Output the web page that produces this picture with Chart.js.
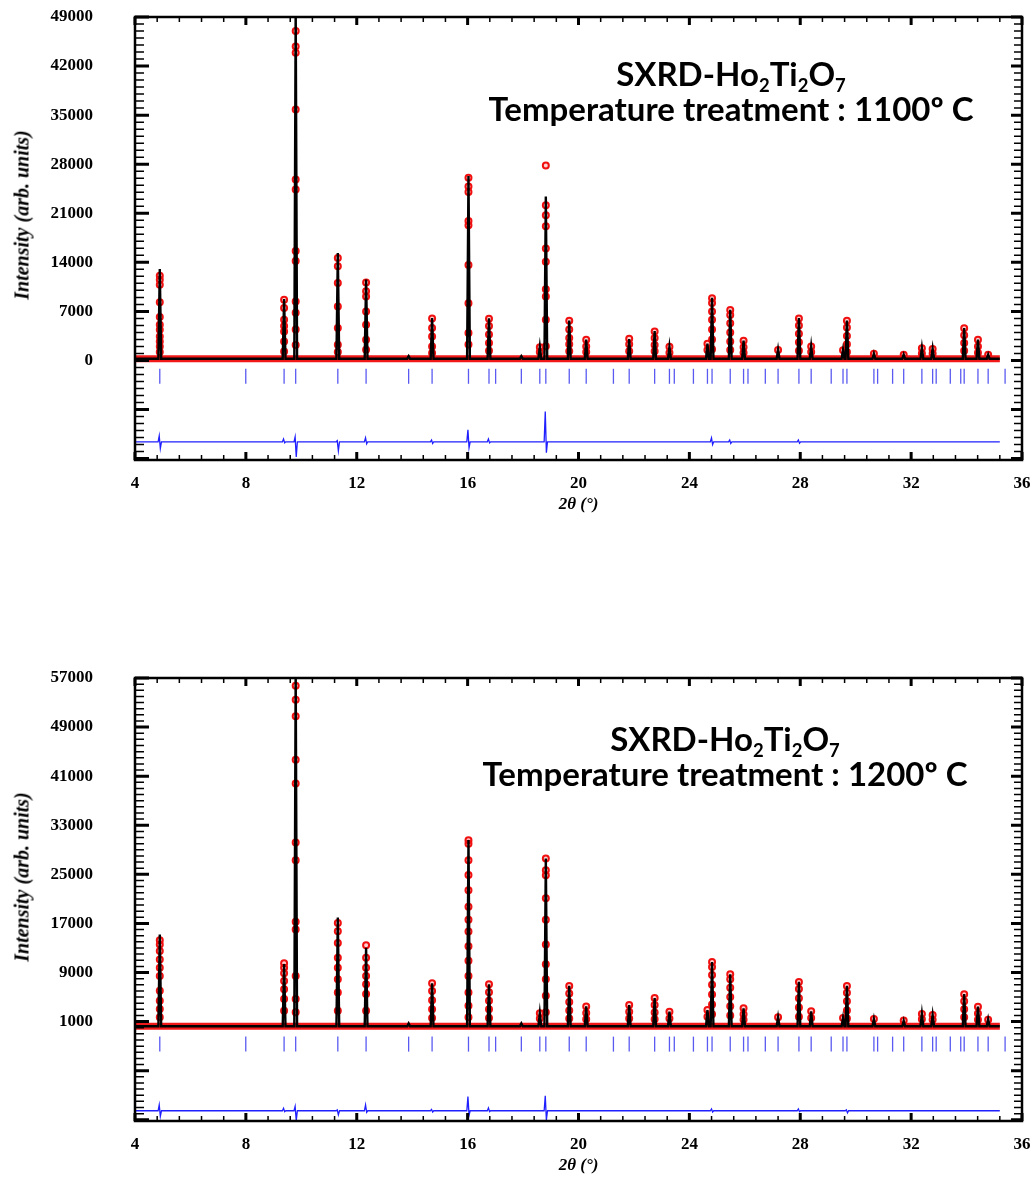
<!DOCTYPE html>
<html><head><meta charset="utf-8">
<script src="https://cdn.jsdelivr.net/npm/chart.js@4.4.1/dist/chart.umd.min.js"></script>
<style>
html,body{margin:0;padding:0;background:#fff;overflow:hidden;width:1036px;height:1182px;}
.wrap{position:absolute;left:0;width:1036px;height:530px;}
canvas{display:block;}
.ytitle{position:absolute;font-family:'Liberation Serif',serif;font-weight:bold;font-style:italic;font-size:20px;white-space:nowrap;color:#000;transform:translate(-50%,-50%) rotate(-90deg);}
.note{position:absolute;font-family:Lato,sans-serif;font-weight:bold;font-size:33px;line-height:35px;white-space:nowrap;text-align:center;color:#000;transform:translateX(-50%);}
.note sub{font-size:0.56em;vertical-align:-0.3em;line-height:0;}
</style></head>
<body>
<div class="wrap" style="top:0"><canvas id="c1" width="1036" height="530" style="width:1036px;height:530px"></canvas></div>
<div class="wrap" style="top:661px"><canvas id="c2" width="1036" height="530" style="width:1036px;height:530px"></canvas></div>
<div class="ytitle" style="left:22px;top:215px">Intensity (arb. units)</div>
<div class="ytitle" style="left:22px;top:877px">Intensity (arb. units)</div>
<div class="note" style="left:731px;top:56px">SXRD-Ho<sub>2</sub>Ti<sub>2</sub>O<sub>7</sub><br>Temperature treatment : 1100º C</div>
<div class="note" style="left:725px;top:721px">SXRD-Ho<sub>2</sub>Ti<sub>2</sub>O<sub>7</sub><br>Temperature treatment : 1200º C</div>
<script>
// ---- data (2θ in degrees, intensities in arb. units) ----
const xLabels = [4, 8, 12, 16, 20, 24, 28, 32, 36];
const yLabels1100 = [0, 7000, 14000, 21000, 28000, 35000, 42000, 49000];
const yLabels1200 = [1000, 9000, 17000, 25000, 33000, 41000, 49000, 57000];

const braggPos = [4.894, 7.996, 9.379, 9.797, 11.317, 12.337, 13.872, 14.718, 16.031, 16.771, 17.010,
  17.938, 18.604, 18.821, 19.666, 20.278, 21.260, 21.829, 22.747, 23.281, 23.456, 24.146, 24.652,
  24.818, 25.474, 25.955, 26.114, 26.740, 27.200, 27.952, 28.394, 29.117, 29.543, 29.684, 30.657,
  30.791, 31.332, 31.732, 32.388, 32.776, 32.904, 33.413, 33.790, 33.914, 34.411, 34.779, 35.390];

const peakPos = [4.894, 9.379, 9.797, 11.317, 12.337, 13.872, 14.718, 16.031, 16.771, 17.938, 18.604,
  18.821, 19.666, 20.278, 21.829, 22.747, 23.281, 24.652, 24.818, 25.474, 25.955, 27.200, 27.952,
  28.394, 29.543, 29.684, 30.657, 31.732, 32.388, 32.776, 33.914, 34.411, 34.779];

const calc1100 = [13060, 8770, 50500, 15340, 11530, 600, 6060, 26300, 6000, 600, 1940,
  23400, 5700, 2980, 3050, 4180, 1960, 2420, 8950, 7240, 2840, 1560, 6050,
  2030, 1500, 5680, 990, 850, 1800, 1700, 4640, 2980, 850];
const calc1200 = [15180, 10400, 58500, 17980, 13050, 700, 7250, 30600, 7090, 700, 2350,
  27600, 6820, 3480, 3700, 4830, 2620, 2890, 10700, 8710, 3160, 1700, 7470,
  2670, 1590, 6820, 1430, 1160, 2240, 2080, 5470, 3430, 1400];

const obs1100 = [
  [12100, 11530, 10810, 8290, 6190, 5100, 4390, 3430, 2720, 2000, 1200],
  [8670, 7480, 5810, 4900, 4140, 2720, 1290],
  [47000, 44800, 43900, 35800, 25800, 24400, 15600, 14200, 8400, 6800, 4400, 2200],
  [14630, 13430, 11060, 7710, 4630, 2240, 1200],
  [11140, 9860, 9140, 7000, 5100, 2960, 1530],
  [],
  [6000, 4630, 3430, 2000, 1060],
  [26060, 24830, 24030, 19910, 19300, 13620, 8180, 3930, 2270],
  [5960, 4900, 3700, 2500, 1400],
  [],
  [1900, 1200],
  [27810, 22140, 20720, 19160, 15990, 14100, 10170, 9130, 5820, 2030],
  [5680, 4400, 3200, 2300, 1300],
  [2950, 2000, 1200],
  [3100, 2300, 1300],
  [4150, 3200, 2200, 1300],
  [1950, 1100],
  [2400, 1500],
  [8880, 8200, 7000, 5800, 4400, 3000, 1600],
  [7200, 6500, 5300, 4000, 2700, 1500],
  [2800, 1900, 1100],
  [1500],
  [6000, 5000, 3800, 2600, 1400],
  [2000, 1200],
  [1450],
  [5650, 4700, 3500, 2300, 1200],
  [950],
  [800],
  [1750, 1000],
  [1650, 1000],
  [4600, 3600, 2500, 1400],
  [2950, 2000, 1100],
  [800]
];
const obs1200 = [
  [14260, 13560, 12490, 11140, 9790, 8440, 6020, 4400, 3050, 1700],
  [10490, 9790, 8870, 7630, 6280, 4670, 2780],
  [55740, 53460, 50750, 43660, 39800, 30180, 27290, 17280, 16020, 8440, 4670, 2510],
  [17060, 15710, 13820, 11400, 9790, 7900, 5750, 2780],
  [13450, 11400, 9790, 8440, 7090, 5480, 2780],
  [],
  [7250, 6000, 4500, 3000, 1600],
  [30540, 30000, 27300, 24900, 22400, 19700, 17600, 15700, 13300, 10900, 8440, 5750, 3590, 1700],
  [7090, 5800, 4400, 3000, 1600],
  [],
  [2350, 1500],
  [27570, 25680, 24870, 21100, 17600, 13560, 10330, 7900, 5210, 2510],
  [6820, 5600, 4200, 2800, 1500],
  [3480, 2400, 1400],
  [3700, 2600, 1500],
  [4830, 3700, 2500, 1400],
  [2620, 1500],
  [2890, 1800],
  [10700, 9900, 8600, 7000, 5400, 3800, 2200],
  [8710, 7900, 6500, 5000, 3500, 2000],
  [3160, 2200, 1300],
  [1700],
  [7470, 6300, 4800, 3300, 1800],
  [2670, 1600],
  [1590],
  [6820, 5700, 4300, 2800, 1500],
  [1430],
  [1160],
  [2240, 1400],
  [2080, 1300],
  [5470, 4300, 3000, 1700],
  [3430, 2300, 1300],
  [1300]
];

const diffPos1100 = [4.894, 9.379, 9.797, 11.317, 12.337, 14.718, 16.031, 16.771, 18.821, 24.818, 25.474, 27.952];
const diffUp1100 = [850, 400, 700, 150, 550, 250, 1700, 400, 4300, 550, 250, 250];
const diffDown1100 = [950, 150, 2150, 1300, 300, 250, 850, 150, 1550, 400, 250, 200];
const diffPos1200 = [4.894, 9.379, 9.797, 11.317, 12.337, 14.718, 16.031, 16.771, 18.821, 24.818, 27.952, 29.684];
const diffUp1200 = [950, 400, 700, 150, 950, 200, 2300, 450, 2450, 300, 300, 150];
const diffDown1200 = [900, 150, 1600, 650, 250, 200, 750, 150, 1500, 200, 150, 350];

const xStart = 4.0, xEnd = 35.2;

// ---- drawing helpers ----
const framePlugin = {
  id: 'frame',
  afterDatasetsDraw(chart, args, o) {
    const {ctx, chartArea: a} = chart;
    const x = chart.scales.x, y = chart.scales.y;
    ctx.save();
    ctx.strokeStyle = '#000';
    ctx.lineCap = 'butt';
    for (let i = 0; ; i++) {
      const v = x.min + i * o.xMinor;
      if (v > x.max + 1e-6) break;
      const px = x.getPixelForValue(v);
      const major = Math.abs(v / o.xMajor - Math.round(v / o.xMajor)) < 1e-6;
      const len = major ? 8 : 5;
      ctx.lineWidth = major ? 3 : 1.5;
      ctx.beginPath();
      ctx.moveTo(px, a.bottom); ctx.lineTo(px, a.bottom - len);
      ctx.moveTo(px, a.top); ctx.lineTo(px, a.top + len);
      ctx.stroke();
    }
    const start = Math.ceil(y.min / o.yMinor) * o.yMinor;
    for (let v = start; v <= y.max + 1e-6; v += o.yMinor) {
      const py = y.getPixelForValue(v);
      const r = (v - o.yBase) / o.yMajor;
      const major = Math.abs(r - Math.round(r)) < 1e-6;
      ctx.lineWidth = major ? 3 : 1.5;
      ctx.beginPath();
      ctx.moveTo(a.left, py); ctx.lineTo(a.left + (major ? 14 : 9), py);
      ctx.moveTo(a.right, py); ctx.lineTo(a.right - (major ? 11 : 8), py);
      ctx.stroke();
    }
    ctx.lineWidth = 2.5;
    ctx.strokeRect(a.left, a.top, a.right - a.left, a.bottom - a.top);
    ctx.restore();
  }
};

function makeChart(id, p) {
  const bg = p.bg;
  const calcPts = [{x: xStart, y: bg}];
  peakPos.forEach((pos, i) => {
    calcPts.push({x: pos - 0.05, y: bg}, {x: pos, y: p.calc[i]}, {x: pos + 0.05, y: bg});
  });
  calcPts.push({x: xEnd, y: bg});

  const obsPts = [];
  peakPos.forEach((pos, i) => p.obs[i].forEach(v => obsPts.push({x: pos, y: v})));

  const diffPts = [{x: xStart, y: p.off}];
  p.diffPos.forEach((pos, i) => {
    diffPts.push({x: pos - 0.06, y: p.off}, {x: pos - 0.02, y: p.off + p.diffUp[i]},
                 {x: pos + 0.02, y: p.off - p.diffDown[i]}, {x: pos + 0.06, y: p.off});
  });
  diffPts.push({x: xEnd, y: p.off});

  const braggPts = braggPos.map(pos => ({x: pos, y: p.tickY}));

  const tickFont = {family: "'Liberation Serif', 'Times New Roman', serif", weight: 'bold', size: 17};

  return new Chart(document.getElementById(id), {
    type: 'scatter',
    data: {
      datasets: [
        {label: 'Calc', data: calcPts, showLine: true, borderColor: '#000', borderWidth: 2.4, pointRadius: 0, tension: 0, order: 1},
        {label: 'Obs', data: obsPts, showLine: false, pointRadius: 3, pointBorderWidth: 2,
         pointBorderColor: '#f01010', pointBackgroundColor: 'rgba(255,30,30,0.2)', order: 2},
        {label: 'Obs background', data: [{x: xStart, y: bg}, {x: xEnd, y: bg}], showLine: true,
         borderColor: '#f01818', borderWidth: 7, pointRadius: 0, order: 3},
        {label: 'Obs-Calc', data: diffPts, showLine: true, borderColor: '#1f1fff', borderWidth: 1.3, pointRadius: 0, order: 4},
        {label: 'Bragg', data: braggPts, showLine: false, pointStyle: 'line', rotation: 90, pointRadius: 7.5,
         pointBorderWidth: 1.3, pointBorderColor: '#5a5af2', order: 5}
      ]
    },
    options: {
      responsive: false,
      animation: false,
      events: [],
      layout: {padding: {top: 17, right: 14, left: 0, bottom: 0}},
      plugins: {legend: {display: false}, tooltip: {enabled: false},
        frame: {xMinor: 0.8, xMajor: 4, yMinor: 1000, yMajor: p.yMajor, yBase: p.yBase}},
      scales: {
        x: {
          type: 'linear', min: 4, max: 36,
          afterBuildTicks: s => { s.ticks = xLabels.map(v => ({value: v})); },
          afterFit: s => { s.height = 70; s.paddingLeft = 0; s.paddingRight = 0; },
          grid: {display: false, drawTicks: false}, border: {display: false},
          ticks: {font: tickFont, color: '#000', padding: 13, autoSkip: false, maxRotation: 0, callback: v => String(v)},
          title: {display: true, text: '2θ (°)', color: '#000',
            font: {family: "'Liberation Serif', 'Times New Roman', serif", style: 'italic', weight: 'bold', size: 17},
            padding: {top: 0, bottom: 15}}
        },
        y: {
          type: 'linear', min: p.yMin, max: p.yMax,
          afterBuildTicks: s => { s.ticks = p.yLabels.map(v => ({value: v})); },
          afterFit: s => { s.width = 135; s.paddingTop = 0; s.paddingBottom = 0; },
          grid: {display: false, drawTicks: false}, border: {display: false},
          ticks: {font: tickFont, color: '#000', padding: 42, autoSkip: false, callback: v => String(v)}
        }
      }
    },
    plugins: [framePlugin]
  });
}

makeChart('c1', {bg: 250, calc: calc1100, obs: obs1100, off: -11600, tickY: -2260,
  diffPos: diffPos1100, diffUp: diffUp1100, diffDown: diffDown1100,
  yMin: -14200, yMax: 49000, yLabels: yLabels1100, yMajor: 7000, yBase: 0});
makeChart('c2', {bg: 250, calc: calc1200, obs: obs1200, off: -13530, tickY: -2670,
  diffPos: diffPos1200, diffUp: diffUp1200, diffDown: diffDown1200,
  yMin: -15200, yMax: 57000, yLabels: yLabels1200, yMajor: 8000, yBase: 1000});
</script>
</body></html>
